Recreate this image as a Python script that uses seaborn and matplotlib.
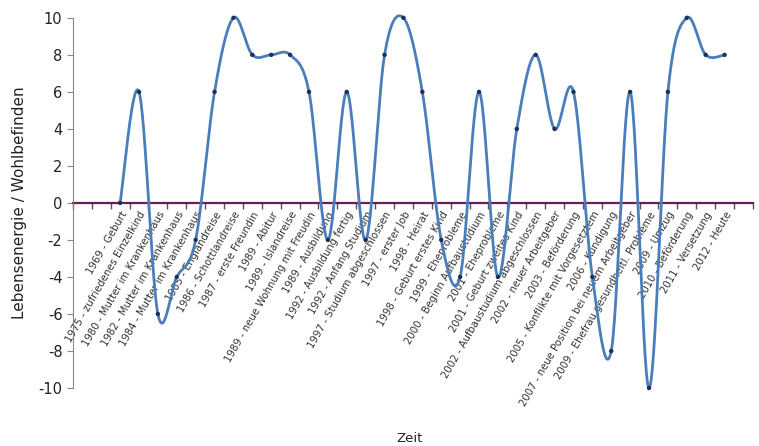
import numpy as np
import pandas as pd
from matplotlib import pyplot as plt
from matplotlib.ticker import FixedLocator
import seaborn as sns

# categories (empty ones pad the axis like in the original Excel chart)
labels = [
    "", "",
    "1969 - Geburt",
    "1975 - zufriedenes Einzelkind",
    "1980 - Mutter im Krankenhaus",
    "1982 - Mutter im Krankenhaus",
    "1984 - Mutter im Krankenhaus",
    "1985 - Englandreise",
    "1986 - Schottlandreise",
    "1987 - erste Freundin",
    "1989 - Abitur",
    "1989 - Islandreise",
    "1989 - neue Wohnung mit Freudin",
    "1989 - Ausbildung",
    "1992 - Ausbildung fertig",
    "1992 - Anfang Studium",
    "1997 - Studium abgeschlossen",
    "1997 - erster Job",
    "1998 - Heirat",
    "1998 - Geburt erstes Kind",
    "1999 - Eheprobleme",
    "2000 - Beginn Aufbaustudium",
    "2001 - Eheprobleme",
    "2001 - Geburt zweites Kind",
    "2002 - Aufbaustudium abgeschlossen",
    "2002 - neuer Arbeitgeber",
    "2003 - Beförderung",
    "2005 - Konflikte mit Vorgesetztem",
    "2006 - Kündigung",
    "2007 - neue Position bei neuem Arbeitgeber",
    "2009 - Ehefrau gesundheitl. Probleme",
    "2009 - Umzug",
    "2010 - Beförderung",
    "2011 - Versetzung",
    "2012 - Heute",
    "",
]
first_index = 2
values = [0, 6, -6, -4, -2, 6, 10, 8, 8, 8, 6, -2, 6, -2, 8, 10, 6,
          -2, -4, 6, -4, 4, 8, 4, 6, -4, -8, 6, -10, 6, 10, 8, 8]

df = pd.DataFrame({"pos": np.arange(len(values)) + first_index + 0.5, "wert": values})


def smooth(x, y, n=30):
    # Excel-like smoothed line (Catmull-Rom through the data points)
    x = np.asarray(x, float)
    y = np.asarray(y, float)
    px = np.concatenate([[x[0]], x, [x[-1]]])
    py = np.concatenate([[y[0]], y, [y[-1]]])
    xs, ys = [], []
    t = np.linspace(0, 1, n)
    for i in range(1, len(px) - 2):
        p0, p1, p2, p3 = py[i - 1], py[i], py[i + 1], py[i + 2]
        q0, q1, q2, q3 = px[i - 1], px[i], px[i + 1], px[i + 2]
        c1y, c2y = p1 + (p2 - p0) / 6, p2 - (p3 - p1) / 6
        c1x, c2x = q1 + (q2 - q0) / 6, q2 - (q3 - q1) / 6
        b = [(1 - t) ** 3, 3 * (1 - t) ** 2 * t, 3 * (1 - t) * t ** 2, t ** 3]
        xs.append(b[0] * q1 + b[1] * c1x + b[2] * c2x + b[3] * q2)
        ys.append(b[0] * p1 + b[1] * c1y + b[2] * c2y + b[3] * p2)
    return np.concatenate(xs), np.concatenate(ys)


sns.set_theme(style="white")
plt.rcParams["font.family"] = ["DejaVu Sans"]
plt.rcParams["axes.unicode_minus"] = False

fig = plt.figure(figsize=(7.59, 4.46), dpi=100)
ax = fig.add_axes([0.096, 0.13, 0.896, 0.83])

sx, sy = smooth(df["pos"], df["wert"])
curve = pd.DataFrame({"x": sx, "y": sy})
sns.lineplot(data=curve, x="x", y="y", ax=ax, color="#4A7EBB", linewidth=2,
             sort=False, estimator=None, clip_on=False, zorder=3)
sns.scatterplot(data=df, x="pos", y="wert", ax=ax, color="#1F2F55", s=10,
                edgecolor="none", zorder=4, clip_on=False)

ax.spines["top"].set_visible(False)
ax.spines["right"].set_visible(False)
ax.spines["left"].set_color("#888888")
ax.spines["left"].set_linewidth(0.8)
ax.spines["bottom"].set_position(("data", 0))
ax.spines["bottom"].set_color("#6B1C5A")
ax.spines["bottom"].set_linewidth(1.6)
ax.spines["bottom"].set_zorder(2)

ax.set_xlim(0, len(labels))
ax.set_ylim(-10, 10)
ax.set_yticks(range(-10, 11, 2))
ax.tick_params(axis="y", labelsize=10.5, labelcolor="#222222", color="#888888",
               length=4, direction="out", left=True, width=0.8)

centers = np.arange(len(labels)) + 0.5
ax.xaxis.set_major_locator(FixedLocator(centers))
ax.set_xticklabels(labels, rotation=60, ha="right", rotation_mode="anchor",
                   fontsize=7.3, color="#333333")
ax.tick_params(axis="x", which="major", length=0, pad=5)
ax.xaxis.set_minor_locator(FixedLocator(np.arange(len(labels) + 1)))
ax.tick_params(axis="x", which="minor", bottom=True, length=4, width=1,
               color="#555555", direction="out")

ax.set_ylabel("Lebensenergie / Wohlbefinden", fontsize=11, color="#222222", labelpad=8)
ax.set_xlabel("")
fig.text(0.54, 0.008, "Zeit", fontsize=9.5, color="#222222", ha="center")

fig.savefig("out.png", dpi=100)
